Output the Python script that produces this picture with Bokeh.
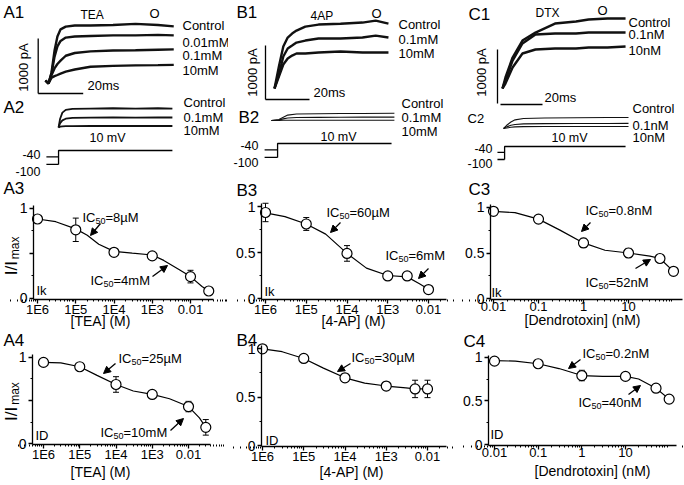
import math
from bokeh.plotting import figure
from bokeh.models import (Range1d, Label, FixedTicker, ColumnDataSource, Whisker,
                          TeeHead, Arrow, NormalHead, LogAxis, LinearAxis)
from bokeh.layouts import row, column
from bokeh.embed import file_html
from bokeh.resources import INLINE

FONT = "Liberation Sans"

# ======================= DATA =======================
SCALE_PA = 1000          # scale bar, pA
SCALE_MS = 20            # scale bar, ms
STEP_MV = 10             # test pulse, mV
HOLD_MV = [-40, -100]    # holding potentials, mV

# --- A: TEA ---
a1_t = [0, 1.3, 2.7, 4.0, 5.3, 6.7, 9, 13, 20, 30, 40, 50, 57]
a1_control = [0, -55, 150, 540, 800, 930, 980, 1000, 1000, 1010, 1030, 1010, 985]
a1_001mM = [0, -55, 130, 430, 620, 720, 780, 800, 810, 820, 820, 830, 820]
a1_01mM = [0, -55, 100, 220, 300, 360, 450, 500, 530, 545, 550, 560, 565]
a1_10mM = [0, -55, 50, 80, 100, 125, 160, 200, 250, 265, 275, 280, 285]
a1_names = ["Control", "0.01mM", "0.1mM", "10mM"]
a2_t = [5.8, 6.5, 7.5, 9, 12, 20, 30, 40, 50, 56.4]
a2_control = [0, 160, 270, 320, 340, 345, 350, 345, 350, 345]
a2_01mM = [0, 80, 130, 160, 175, 180, 182, 180, 185, 182]
a2_10mM = [0, 15, 20, 25, 25, 27, 27, 27, 28, 27]
a2_names = ["Control", "0.1mM", "10mM"]
a_v_t = [0.4, 5.8, 56.4]

# --- B: 4-AP ---
b1_t = [0, 2, 4, 6, 8, 10, 14, 20, 30, 40, 46, 51.8]
b1_control = [0, 407, 777, 944, 1018, 1073, 1147, 1184, 1200, 1221, 1258, 1200]
b1_01mM = [0, 259, 592, 740, 795, 851, 888, 925, 925, 944, 980, 944]
b1_10mM = [0, 222, 444, 555, 610, 648, 648, 666, 685, 666, 666, 666]
b1_names = ["Control", "0.1mM", "10mM"]
b2_t = [-1.4, 2, 4, 6, 10, 20, 30, 40, 54.5]
b2_control = [0, 20, 60, 100, 120, 125, 130, 130, 135]
b2_01mM = [0, 10, 30, 45, 55, 58, 60, 62, 62]
b2_10mM = [0, 2, 4, 5, 5, 5, 6, 6, 6]
b2_names = ["Control", "0.1mM", "10mM"]
b_v_t = [-4.5, 1.4, 53.2]

# --- C: Dendrotoxin ---
c1_t = [0, 1.4, 4.8, 9.5, 15.7, 25, 35, 41, 50, 58.6]
c1_control = [0, 204, 574, 888, 1036, 1203, 1240, 1277, 1295, 1295]
c1_01nM = [0, 148, 518, 833, 999, 1018, 1018, 1036, 1036, 1036]
c1_10nM = [0, 92, 389, 648, 722, 740, 740, 759, 759, 777]
c1_names = ["Control", "0.1nM", "10nM"]
c2_t = [0.5, 2, 4, 6, 10, 20, 35, 50, 60]
c2_control = [0, 60, 120, 160, 185, 195, 200, 205, 205]
c2_01nM = [0, 30, 60, 75, 85, 90, 92, 92, 95]
c2_10nM = [0, 10, 22, 30, 35, 37, 37, 38, 38]
c2_names = ["Control", "0.1nM", "10nM"]
c_v_t = [-2.4, 1.0, 58.6]

# --- dose-response (I/Imax) ---
tea_conc = [1e-6, 1e-5, 1e-4, 1e-3, 1e-2, 3e-2]          # M
a3_y = [0.88, 0.76, 0.51, 0.47, 0.24, 0.08]
a3_err = [0.0, 0.13, 0.02, 0.03, 0.07, 0.0]
a3_fit_x = [1e-6, 3e-6, 1e-5, 2e-5, 4e-5, 1e-4, 3e-4, 1e-3, 2e-3, 5e-3, 1e-2, 2e-2, 3e-2]
a3_fit_y = [0.88, 0.85, 0.77, 0.70, 0.60, 0.52, 0.50, 0.48, 0.42, 0.32, 0.24, 0.13, 0.08]
a4_y = [0.94, 0.89, 0.685, 0.57, 0.43, 0.19]
a4_err = [0.01, 0.01, 0.09, 0.01, 0.06, 0.09]
a4_fit_x = [1e-6, 3e-6, 1e-5, 3e-5, 1e-4, 3e-4, 1e-3, 3e-3, 1e-2, 2e-2, 3e-2]
a4_fit_y = [0.94, 0.935, 0.89, 0.79, 0.685, 0.61, 0.57, 0.52, 0.43, 0.30, 0.19]

ap_conc_3 = [1e-6, 1e-5, 1e-4, 1e-3, 3e-3, 1e-2]          # M
b3_y = [0.935, 0.81, 0.49, 0.245, 0.245, 0.097]
b3_err = [0.10, 0.07, 0.085, 0.02, 0.02, 0.02]
b3_fit_x = [1e-6, 3e-6, 1e-5, 3e-5, 1e-4, 3e-4, 1e-3, 3e-3, 6e-3, 1e-2]
b3_fit_y = [0.93, 0.89, 0.81, 0.70, 0.49, 0.33, 0.25, 0.235, 0.16, 0.10]
ap_conc_4 = [1e-6, 1e-5, 1e-4, 1e-3, 5e-3, 1e-2]
b4_y = [1.0, 0.90, 0.70, 0.615, 0.585, 0.585]
b4_err = [0.01, 0.01, 0.01, 0.04, 0.09, 0.09]
b4_fit_x = [1e-6, 3e-6, 1e-5, 3e-5, 1e-4, 3e-4, 1e-3, 3e-3, 5e-3, 1e-2]
b4_fit_y = [1.0, 0.97, 0.90, 0.80, 0.70, 0.645, 0.615, 0.595, 0.585, 0.585]

dtx_conc = [0.01, 0.1, 1, 10, 50, 100]                     # nM
c3_y = [0.955, 0.87, 0.61, 0.50, 0.44, 0.30]
c3_err = [0.02, 0.04, 0.05, 0.05, 0.02, 0.02]
c3_fit_x = [0.01, 0.03, 0.1, 0.3, 1, 3, 10, 30, 50, 100]
c3_fit_y = [0.955, 0.94, 0.87, 0.75, 0.61, 0.53, 0.50, 0.465, 0.44, 0.30]
c4_y = [0.955, 0.925, 0.79, 0.78, 0.645, 0.52]
c4_err = [0.02, 0.01, 0.06, 0.02, 0.01, 0.01]
c4_fit_x = [0.01, 0.03, 0.1, 0.3, 1, 3, 10, 20, 50, 100]
c4_fit_y = [0.96, 0.955, 0.925, 0.87, 0.79, 0.78, 0.78, 0.75, 0.645, 0.52]

molar_ticks = [1e-6, 1e-5, 1e-4, 1e-3, 1e-2]
molar_labels = ["1E6", "1E5", "1E4", "1E3", "0.01"]
nm_ticks = [0.01, 0.1, 1, 10]
nm_labels = ["0.01", "0.1", "1", "10"]
y_ticks = [0, 0.5, 1]
y_labels = ["0", "0.5", "1"]

# ======================= HELPERS =======================
EM = {'I': .278, 'C': .722, '=': .584, '.': .278, 'µ': .576, 'M': .833, 'm': .833, 'n': .556}


def text_w(s, size):
    return sum(EM.get(c, .556) for c in s) * size


def text(p, x, y, s, size=13, align="left", baseline="middle", angle=0.0, x_offset=0):
    p.add_layout(Label(x=x, y=y, text=s, text_font=FONT, text_font_size=f"{size}px",
                       text_align=align, text_baseline=baseline, angle=angle,
                       x_offset=x_offset, text_color="black"))


def ic50(p, X, Y, px, py, value, size=13):
    w1 = text_w("IC", size)
    text(p, X(px), Y(py), "IC", size)
    text(p, X(px), Y(py + 3), "50", 9, x_offset=w1)
    text(p, X(px), Y(py), "=" + value, size, x_offset=w1 + text_w("50", 9))


def arrow(p, X, Y, tail, head):
    p.add_layout(Arrow(end=NormalHead(size=7, fill_color="black", line_color="black", line_width=1),
                       x_start=X(tail[0]), y_start=Y(tail[1]), x_end=X(head[0]), y_end=Y(head[1]),
                       line_width=1.3, line_color="black"))


def canvas(W, H, xr, yr, log_x=False):
    kw = dict(x_axis_type="log") if log_x else {}
    p = figure(width=W, height=H, frame_width=W, frame_height=H, x_range=xr, y_range=yr,
               x_axis_location=None, y_axis_location=None, min_border=0,
               outline_line_color=None, output_backend="svg", toolbar_location=None, **kw)
    p.grid.visible = False
    return p


# column x-extents and row y-extents (pixels of the page)
COL_X = [(0, 228), (228, 455), (455, 684)]
ROW_Y = [(0, 180), (180, 330), (330, 485)]


def trace_canvas(col, t0px, ppms, base1, base2, pa_px, v10px, mv_px):
    fx, fx2 = COL_X[col]
    fy, fy2 = ROW_Y[0]
    tx = lambda px: (px - t0px) / ppms
    iy = lambda py: (base1 - py) * pa_px
    i2 = lambda py: (base2 - py) * pa_px
    vv = lambda py: STEP_MV + (v10px - py) / mv_px
    p = canvas(fx2 - fx, fy2 - fy, Range1d(tx(fx), tx(fx2)), Range1d(iy(fy2), iy(fy)))
    p.extra_y_ranges = {"i2": Range1d(i2(fy2), i2(fy)), "v": Range1d(vv(fy2), vv(fy))}
    return p, tx, iy


def draw_traces(p, t, series, width, rng="default"):
    for s in series:
        p.line(t, s, line_color="#111111", line_width=width, y_range_name=rng)


def draw_protocol(p, vt):
    t_pre, t_step, t_end = vt
    for h in HOLD_MV:
        p.line([t_pre, t_step], [h, h], line_color="black", line_width=1.3, y_range_name="v")
    p.line([t_step, t_step, t_end], [min(HOLD_MV), STEP_MV, STEP_MV], line_color="black",
           line_width=1.3, y_range_name="v")


def scale_bar(p, tx, iy, v_anchor, h_anchor):
    t_v, i_v = tx(v_anchor[0]), iy(v_anchor[1])
    p.line([t_v, t_v], [i_v, i_v + SCALE_PA], line_color="black", line_width=1.3)
    t_h, i_h = tx(h_anchor[0]), iy(h_anchor[1])
    p.line([t_h, t_h + SCALE_MS], [i_h, i_h], line_color="black", line_width=1.3)


def trace_column(col, geom, drug, tr1, names1, tr2, names2, vt, L):
    p, tx, iy = trace_canvas(col, *geom)
    t1, s1 = tr1
    t2, s2, w2 = tr2
    draw_traces(p, t1, s1, 2.4)
    draw_traces(p, t2, s2, w2, "i2")
    draw_protocol(p, vt)
    scale_bar(p, tx, iy, L["vbar"], L["hbar"])
    text(p, tx(L["p1"][0]), iy(L["p1"][1]), L["p1"][2], L["p1"][3])
    text(p, tx(L["p2"][0]), iy(L["p2"][1]), L["p2"][2], L["p2"][3])
    text(p, tx(L["drug"][0]), iy(L["drug"][1]), drug, 12)
    text(p, tx(L["O"][0]), iy(L["O"][1]), "O", 13, align="center")
    for name, py in zip(names1, L["n1_y"]):
        text(p, tx(L["n1_x"]), iy(py), name, 13)
    for name, py in zip(names2, L["n2_y"]):
        text(p, tx(L["n2_x"]), iy(py), name, 13)
    text(p, tx(L["pa"][0]), iy(L["pa"][1]), f"{SCALE_PA} pA", 13, align="center", angle=math.pi / 2)
    text(p, tx(L["ms"][0]), iy(L["ms"][1]), f"{SCALE_MS}ms", 13)
    text(p, tx(L["mv"][0]), iy(L["mv"][1]), f"{STEP_MV} mV", 12.5, align="center")
    for h, py in zip(HOLD_MV, L["hold_y"]):
        text(p, tx(L["hold_x"]), iy(py), str(h), 12.5, align="right")
    return p


def style_axis(ax, label_size, standoff):
    ax.axis_line_width = 1.3
    ax.major_tick_line_width = 1.3
    ax.minor_tick_line_width = 1
    ax.major_tick_in = 0
    ax.minor_tick_in = 0
    ax.major_tick_out = 4
    ax.minor_tick_out = 2
    ax.major_label_text_font = FONT
    ax.major_label_text_color = "black"
    ax.major_label_text_font_size = label_size
    ax.major_label_standoff = standoff


def dose_fig(col, rw, frame, ypx, xdec, ticks, labels, minor, x_all, y, err, fit_x, fit_y,
             show_half=True):
    fx, fx2 = COL_X[col]
    fy, fy2 = ROW_Y[rw]
    left, right, top, bottom = frame
    y0p, y1p = ypx
    (e1, p1), (e2, p2) = xdec
    k = (p2 - p1) / (e2 - e1)
    unit = y0p - y1p
    X = lambda px: 10 ** (e1 + (px - p1) / k)
    Y = lambda py: (y0p - py) / unit
    p = canvas(fx2 - fx, fy2 - fy, Range1d(X(fx), X(fx2)), Range1d(Y(fy2), Y(fy)), log_x=True)
    xa = LogAxis(fixed_location=Y(bottom), bounds=(X(left), X(right)),
                 ticker=FixedTicker(ticks=ticks, minor_ticks=minor),
                 major_label_overrides={t: s for t, s in zip(ticks, labels)})
    style_axis(xa, "13px", -2)
    p.add_layout(xa, "below")
    ya = LinearAxis(fixed_location=X(left), bounds=(Y(bottom), Y(top)),
                    ticker=FixedTicker(ticks=y_ticks, minor_ticks=[0.25, 0.75]),
                    major_label_overrides={t: "" for t in y_ticks})
    style_axis(ya, "14px", 2)
    p.add_layout(ya, "left")
    # y tick labels, right-aligned next to the ticks
    for v, s in zip(y_ticks, y_labels):
        if v == 0.5 and not show_half:
            continue
        text(p, X(left - 6), v, s, 14, align="right")
    p.line(fit_x, fit_y, line_color="black", line_width=1.2)
    src = ColumnDataSource(dict(base=[c for c, e in zip(x_all, err) if e > 0],
                                lower=[v - e for v, e in zip(y, err) if e > 0],
                                upper=[v + e for v, e in zip(y, err) if e > 0]))
    p.add_layout(Whisker(source=src, base="base", lower="lower", upper="upper",
                         line_color="black", line_width=1, level="underlay",
                         upper_head=TeeHead(size=6, line_width=1, line_color="black"),
                         lower_head=TeeHead(size=6, line_width=1, line_color="black")))
    p.scatter(x_all, y, size=10, marker="circle", fill_color="white", line_color="black",
              line_width=1.2)
    return p, X, Y


def imax_label(p, X, Y, y0p):
    text(p, X(11), Y(y0p - 30), "I/I", 17, align="center", angle=math.pi / 2)
    text(p, X(14), Y(y0p - 39), "max", 12, align="left", angle=math.pi / 2)


# ======================= TOP ROW =======================
pa_a = SCALE_PA / 55.0
pa_b = SCALE_PA / 54.0
a_top = trace_column(0, (45, 2.25, 80, 127, pa_a, 150, 0.127), "TEA",
                     (a1_t, [a1_control, a1_001mM, a1_01mM, a1_10mM]), a1_names,
                     (a2_t, [a2_control, a2_01mM, a2_10mM], 1.8), a2_names, a_v_t,
                     dict(vbar=(37.7, 93), hbar=(37.7, 93), p1=(3, 12, "A1", 17), p2=(3, 107, "A2", 17),
                          drug=(80, 14), O=(154, 13), n1_x=182, n1_y=[25, 42, 55, 70],
                          n2_x=183, n2_y=[102, 117, 130], pa=(23, 67), ms=(87, 85),
                          mv=(107, 137), hold_x=40, hold_y=[154, 170.5]))
b_top = trace_column(1, (274, 2.2, 88, 120, pa_b, 143, 0.127), "4AP",
                     (b1_t, [b1_control, b1_01mM, b1_10mM]), b1_names,
                     (b2_t, [b2_control, b2_01mM, b2_10mM], 1.1), b2_names, b_v_t,
                     dict(vbar=(265, 99), hbar=(265, 99), p1=(236, 12, "B1", 17), p2=(238, 117, "B2", 17),
                          drug=(310, 15), O=(376, 13), n1_x=398, n1_y=[24, 39, 53],
                          n2_x=401, n2_y=[103, 117, 131], pa=(252, 72), ms=(313, 92),
                          mv=(338, 136), hold_x=258, hold_y=[145, 162]))
c_top = trace_column(2, (502, 2.1, 88, 128, pa_b, 146, 0.118), "DTX",
                     (c1_t, [c1_control, c1_01nM, c1_10nM]), c1_names,
                     (c2_t, [c2_control, c2_01nM, c2_10nM], 1.1), c2_names, c_v_t,
                     dict(vbar=(497, 103), hbar=(500, 104), p1=(468, 14, "C1", 17), p2=(467, 118, "C2", 13),
                          drug=(535, 12), O=(602, 10), n1_x=628, n1_y=[22, 34, 50],
                          n2_x=632, n2_y=[108, 125, 137], pa=(481, 72), ms=(544, 97),
                          mv=(569, 137), hold_x=492, hold_y=[148, 163]))

molar_minor = [m * 10 ** e for e in range(-7, -1) for m in range(2, 10)]
nm_minor = [m * 10 ** e for e in range(-3, 3) for m in range(2, 10)]

# ======================= ROW 2 (Ik) =======================
a3, X, Y = dose_fig(0, 1, (33, 213, 205, 299), (297.7, 207.7), ((-6, 37), (-2, 190)),
                    molar_ticks, molar_labels, molar_minor, tea_conc, a3_y, a3_err, a3_fit_x, a3_fit_y,
                    show_half=False)
text(a3, X(3), Y(188), "A3", 17)
imax_label(a3, X, Y, 297.7)
ic50(a3, X, Y, 82, 217, "8µM")
arrow(a3, X, Y, (100, 223), (90, 235))
ic50(a3, X, Y, 90, 280, "4mM")
arrow(a3, X, Y, (152, 276), (167, 265))
text(a3, X(36), Y(290), "Ik", 13)
text(a3, X(100), Y(320), "[TEA] (M)", 14, align="center")

b3, X, Y = dose_fig(1, 1, (261, 446, 203, 299), (298, 206), ((-6, 265), (-2, 428)),
                    molar_ticks, molar_labels, molar_minor, ap_conc_3, b3_y, b3_err, b3_fit_x, b3_fit_y)
text(b3, X(236), Y(190), "B3", 17)
ic50(b3, X, Y, 326, 212, "60µM")
arrow(b3, X, Y, (340, 222), (330, 232))
ic50(b3, X, Y, 385, 255, "6mM")
arrow(b3, X, Y, (428, 268), (418, 278))
text(b3, X(264), Y(291), "Ik", 13)
text(b3, X(353), Y(320), "[4-AP] (M)", 14, align="center")

c3, X, Y = dose_fig(2, 1, (490, 682, 204, 299), (298.3, 206.7), ((-2, 493), (1, 628)),
                    nm_ticks, nm_labels, nm_minor, dtx_conc, c3_y, c3_err, c3_fit_x, c3_fit_y)
text(c3, X(468), Y(189), "C3", 17)
ic50(c3, X, Y, 585, 210, "0.8nM")
arrow(c3, X, Y, (590, 222), (581, 231))
ic50(c3, X, Y, 585, 282, "52nM")
arrow(c3, X, Y, (635, 268), (650, 259))
text(c3, X(491), Y(292), "Ik", 13)
text(c3, X(582), Y(319), "[Dendrotoxin] (nM)", 14, align="center")

# ======================= ROW 3 (ID) =======================
a4, X, Y = dose_fig(0, 2, (32, 210, 354, 444), (443.3, 356.7), ((-6, 43), (-2, 188)),
                    molar_ticks, molar_labels, molar_minor, tea_conc, a4_y, a4_err, a4_fit_x, a4_fit_y,
                    show_half=False)
text(a4, X(3), Y(340), "A4", 17)
imax_label(a4, X, Y, 443.3)
ic50(a4, X, Y, 118, 358, "25µM")
arrow(a4, X, Y, (115, 363), (103, 373))
ic50(a4, X, Y, 100, 432, "10mM")
arrow(a4, X, Y, (170, 430), (183, 418))
text(a4, X(35), Y(435), "ID", 13)
text(a4, X(100), Y(471), "[TEA] (M)", 14, align="center")

b4, X, Y = dose_fig(1, 2, (261, 446, 345, 446), (445, 348.3), ((-6, 262), (-2, 427)),
                    molar_ticks, molar_labels, molar_minor, ap_conc_4, b4_y, b4_err, b4_fit_x, b4_fit_y)
text(b4, X(236), Y(340), "B4", 17)
ic50(b4, X, Y, 351, 357, "30µM")
arrow(b4, X, Y, (350, 363), (337, 371))
text(b4, X(265), Y(440), "ID", 13)
text(b4, X(351), Y(471), "[4-AP] (M)", 14, align="center")

c4, X, Y = dose_fig(2, 2, (488, 676, 355, 445), (444, 356.7), ((-2, 494), (1, 625)),
                    nm_ticks, nm_labels, nm_minor, dtx_conc, c4_y, c4_err, c4_fit_x, c4_fit_y)
text(c4, X(463), Y(341), "C4", 17)
ic50(c4, X, Y, 582, 353, "0.2nM")
arrow(c4, X, Y, (580, 359), (568, 368))
ic50(c4, X, Y, 578, 402, "40nM")
arrow(c4, X, Y, (628, 394), (640, 385))
text(c4, X(490), Y(434), "ID", 13)
text(c4, X(592), Y(470), "[Dendrotoxin] (nM)", 14, align="center")

layout = row(column(a_top, a3, a4), column(b_top, b3, b4), column(c_top, c3, c4))

open("out.html", "w").write(file_html(layout, INLINE))
